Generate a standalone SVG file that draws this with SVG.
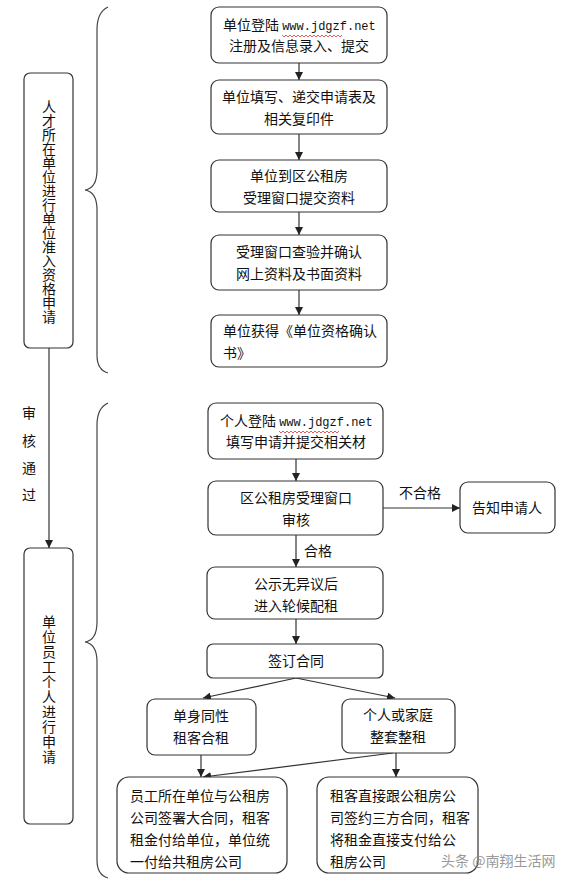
<svg xmlns="http://www.w3.org/2000/svg" width="573" height="880" viewBox="0 0 573 880">
<defs>
<marker id="ah" viewBox="0 0 10 10" refX="10" refY="5" markerWidth="8" markerHeight="8" orient="auto" markerUnits="userSpaceOnUse"><path d="M0,0 L10,5 L0,10 z" fill="#222"/></marker>
<style>
.box{fill:#fff;stroke:#333;stroke-width:1.2}
.t{font-family:"Noto Sans CJK SC","Liberation Sans",sans-serif;font-size:14px;fill:#111}
.v{font-family:"Noto Sans CJK SC","Liberation Sans",sans-serif;font-size:14px;fill:#111;writing-mode:vertical-rl;text-orientation:upright}
.m{font-family:"Liberation Mono",monospace;font-size:12px;fill:#111}
.c{text-anchor:middle}
.ln{stroke:#333;stroke-width:1.2;fill:none}
.br{stroke:#444;stroke-width:1.2;fill:none}
.wv{stroke:#d33;stroke-width:0.8;fill:none}
</style>
</defs>
<rect width="573" height="880" fill="#fff"/>

<g id="braces">
<path class="br" d="M108,7 Q97,12 97,30 L97,170 Q97,188 85,190 Q97,192 97,210 L97,355 Q97,370 108,373"/>
<path class="br" d="M108,403 Q97,408 97,425 L97,622 Q97,640 85,642 Q97,644 97,662 L97,860 Q97,875 108,878"/>
</g>

<g id="connectors">
<line class="ln" x1="49" y1="348" x2="49" y2="548" marker-end="url(#ah)"/>
<line class="ln" x1="299" y1="63" x2="299" y2="80" marker-end="url(#ah)"/>
<line class="ln" x1="299" y1="134" x2="299" y2="160" marker-end="url(#ah)"/>
<line class="ln" x1="299" y1="212" x2="299" y2="235" marker-end="url(#ah)"/>
<line class="ln" x1="299" y1="290" x2="299" y2="315" marker-end="url(#ah)"/>
<line class="ln" x1="296" y1="459" x2="296" y2="481" marker-end="url(#ah)"/>
<line class="ln" x1="383" y1="508" x2="460" y2="508" marker-end="url(#ah)"/>
<line class="ln" x1="296" y1="535" x2="296" y2="567" marker-end="url(#ah)"/>
<line class="ln" x1="296" y1="619" x2="296" y2="644" marker-end="url(#ah)"/>
<line class="ln" x1="296" y1="678" x2="203" y2="698" marker-end="url(#ah)"/>
<line class="ln" x1="296" y1="678" x2="395" y2="698" marker-end="url(#ah)"/>
<line class="ln" x1="201" y1="755" x2="201" y2="777" marker-end="url(#ah)"/>
<line class="ln" x1="396" y1="753" x2="396" y2="777" marker-end="url(#ah)"/>
<line class="ln" x1="393" y1="753" x2="203" y2="777" marker-end="url(#ah)"/>
<g class="t">
<text x="29" y="418" class="c">审</text>
<text x="29" y="446" class="c">核</text>
<text x="29" y="473" class="c">通</text>
<text x="29" y="500" class="c">过</text>
<text x="420" y="498" class="c">不合格</text>
<text x="318" y="556" class="c">合格</text>
</g>
</g>

<g id="left1">
<rect class="box" x="24" y="73" width="49" height="275" rx="6"/>
<text class="v" x="49" y="100">人才所在单位进行单位准入资格申请</text>
</g>

<g id="left2">
<rect class="box" x="24" y="548" width="49" height="276" rx="6"/>
<text class="v" x="49" y="615" letter-spacing="1">单位员工个人进行申请</text>
</g>

<g id="n1">
<rect class="box" x="211" y="7" width="176" height="56" rx="8"/>
<text class="t" x="223" y="30">单位登陆 <tspan class="m">www.jdgzf.net</tspan></text>
<path class="wv" d="M282,35 l2,2 l2,-2 l2,2 l2,-2 l2,2 l2,-2 l2,2 l2,-2 l2,2 l2,-2 l2,2 l2,-2 l2,2 l2,-2 l2,2 l2,-2 l2,2 l2,-2 l2,2 l2,-2 l2,2 l2,-2 l2,2 l2,-2 l2,2 l2,-2 l2,2 l2,-2 l2,2 l2,-2"/>
<text class="t c" x="299" y="51">注册及信息录入、提交</text>
</g>

<g id="n2">
<rect class="box" x="211" y="80" width="176" height="54" rx="8"/>
<text class="t c" x="299" y="102">单位填写、递交申请表及</text>
<text class="t c" x="299" y="124">相关复印件</text>
</g>

<g id="n3">
<rect class="box" x="211" y="160" width="176" height="52" rx="8"/>
<text class="t c" x="299" y="181">单位到区公租房</text>
<text class="t c" x="299" y="203">受理窗口提交资料</text>
</g>

<g id="n4">
<rect class="box" x="211" y="235" width="176" height="55" rx="8"/>
<text class="t c" x="299" y="257">受理窗口查验并确认</text>
<text class="t c" x="299" y="279">网上资料及书面资料</text>
</g>

<g id="n5">
<rect class="box" x="211" y="315" width="176" height="52" rx="8"/>
<text class="t" x="223" y="336">单位获得《单位资格确认</text>
<text class="t" x="223" y="358">书》</text>
</g>

<g id="n6">
<rect class="box" x="208" y="403" width="175" height="56" rx="8"/>
<text class="t" x="220" y="426">个人登陆 <tspan class="m">www.jdgzf.net</tspan></text>
<path class="wv" d="M279,431 l2,2 l2,-2 l2,2 l2,-2 l2,2 l2,-2 l2,2 l2,-2 l2,2 l2,-2 l2,2 l2,-2 l2,2 l2,-2 l2,2 l2,-2 l2,2 l2,-2 l2,2 l2,-2 l2,2 l2,-2 l2,2 l2,-2 l2,2 l2,-2 l2,2 l2,-2 l2,2 l2,-2"/>
<text class="t c" x="296" y="447">填写申请并提交相关材</text>
</g>

<g id="n7">
<rect class="box" x="208" y="481" width="175" height="54" rx="8"/>
<text class="t c" x="296" y="503">区公租房受理窗口</text>
<text class="t c" x="296" y="525">审核</text>
</g>

<g id="n8">
<rect class="box" x="460" y="482" width="95" height="51" rx="8"/>
<text class="t c" x="507" y="513">告知申请人</text>
</g>

<g id="n9">
<rect class="box" x="207" y="567" width="176" height="52" rx="8"/>
<text class="t c" x="296" y="589">公示无异议后</text>
<text class="t c" x="296" y="611">进入轮候配租</text>
</g>

<g id="n10">
<rect class="box" x="207" y="644" width="176" height="34" rx="6"/>
<text class="t c" x="296" y="666">签订合同</text>
</g>

<g id="n11">
<rect class="box" x="147" y="699" width="109" height="56" rx="8"/>
<text class="t c" x="201" y="721">单身同性</text>
<text class="t c" x="201" y="743">租客合租</text>
</g>

<g id="n12">
<rect class="box" x="342" y="699" width="113" height="54" rx="8"/>
<text class="t c" x="398" y="720">个人或家庭</text>
<text class="t c" x="398" y="742">整套整租</text>
</g>

<g id="n13">
<rect class="box" x="117" y="777" width="170" height="96" rx="12"/>
<text class="t" x="130" y="801">员工所在单位与公租房</text>
<text class="t" x="130" y="823">公司签署大合同，租客</text>
<text class="t" x="130" y="845">租金付给单位，单位统</text>
<text class="t" x="130" y="867">一付给共租房公司</text>
</g>

<g id="n14">
<rect class="box" x="317" y="777" width="161" height="96" rx="12"/>
<text class="t" x="330" y="801">租客直接跟公租房公</text>
<text class="t" x="330" y="823">司签约三方合同，租客</text>
<text class="t" x="330" y="845">将租金直接支付给公</text>
<text class="t" x="330" y="867">租房公司</text>
</g>

<g id="watermark">
<text x="441" y="866" style="font-family:'Noto Sans CJK SC',sans-serif;font-size:14px;fill:#888;opacity:0.85">头条 @南翔生活网</text>
</g>
</svg>
